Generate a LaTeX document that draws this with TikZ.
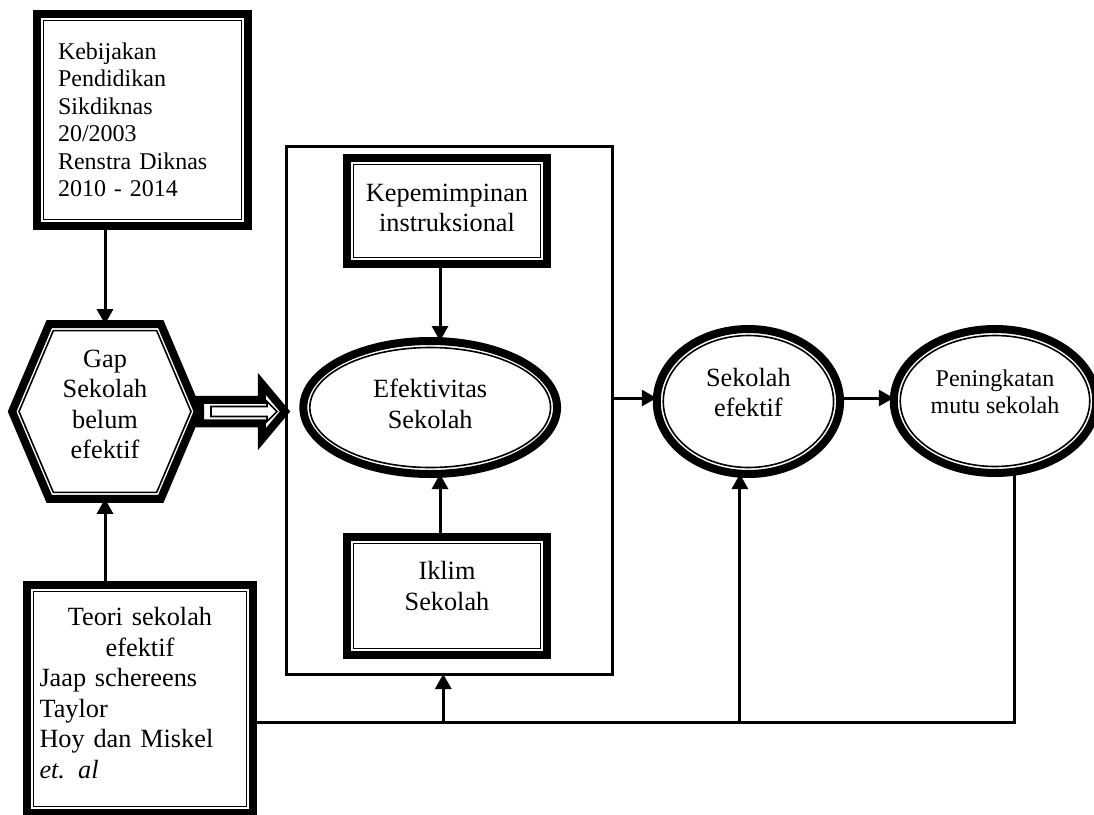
\documentclass[tikz,border=0pt]{standalone}
\usepackage{fontspec}
\setmainfont{Liberation Serif}
\usetikzlibrary{shapes.geometric, shapes.symbols, positioning, arrows.meta, calc}
\tikzset{
  rim/.style={draw, line width=8pt, inner sep=0pt, outer sep=0pt},
  thinrim/.style={draw, line width=1.6pt, inner sep=0pt, outer sep=0pt},
  panel/.style={draw, line width=3pt, inner sep=0pt, outer sep=0pt},
  hexa/.style={signal, signal to=east and west, signal pointer angle=134},
  bigtxt/.style={font=\fontsize{26.3}{30.5}\selectfont, align=center, inner sep=0pt},
  smalltxt/.style={font=\fontsize{24}{27.5}\selectfont, align=center, inner sep=0pt},
  conn/.style={line width=3pt, -{Triangle[width=16pt,length=15pt]}},
  wire/.style={line width=3pt},
  fatarrow/.style={line join=miter}
}
\begin{document}
\begin{tikzpicture}[x=1pt, y=-1pt]
\useasboundingbox (0,0) rectangle (1094,814);

% kotak kebijakan
\node[rim, minimum width=211pt, minimum height=212pt] (kebijakan) at (142.5,120) {};
\node[thinrim, minimum width=198pt, minimum height=199pt] (kebijakan-in) at (kebijakan) {};
\node[smalltxt, text width=169pt, align=left] (kebijakan-t) at (kebijakan) {Kebijakan\\Pendidikan\\Sikdiknas\\20/2003\\Renstra Diknas\\2010 - 2014};

% segi enam gap
\node[rim, hexa, minimum width=185.8pt, minimum height=174.7pt] (gap) at (105,411.5) {};
\node[thinrim, hexa, minimum width=172pt, minimum height=161.7pt] (gap-in) at (gap) {};
\node[bigtxt] (gap-t) at ([yshift=7pt]gap) {Gap\\Sekolah\\belum\\efektif};

% kotak teori
\node[rim, minimum width=226pt, minimum height=228pt] (teori) at (140,699) {};
\node[thinrim, minimum width=213pt, minimum height=215pt] (teori-in) at (teori) {};
\node[bigtxt, text width=201pt, align=left] (teori-t) at ([yshift=6pt]teori) {\makebox[\hsize]{Teori sekolah}\\\makebox[\hsize]{efektif}\\Jaap schereens\\Taylor\\Hoy dan Miskel\\\textit{et. al}};

% bingkai tengah
\node[panel, minimum width=325.5pt, minimum height=527.5pt] (frame) at (449.25,410.25) {};

\node[rim, minimum width=200pt, minimum height=106pt] (kep) at (447,211) {};
\node[thinrim, minimum width=187pt, minimum height=93pt] (kep-in) at (kep) {};
\node[bigtxt] (kep-t) at ([yshift=3pt]kep) {Kepemimpinan\\instruksional};

\node[rim, ellipse, minimum width=253.7pt, minimum height=133pt] (efek) at (430.2,407.5) {};
\node[thinrim, ellipse, minimum width=240.7pt, minimum height=120pt] (efek-in) at (efek) {};
\node[bigtxt] (efek-t) at ([yshift=3.5pt]efek) {Efektivitas\\Sekolah};

\node[rim, minimum width=200pt, minimum height=118pt] (iklim) at (447,596) {};
\node[thinrim, minimum width=187pt, minimum height=105pt] (iklim-in) at (iklim) {};
\node[bigtxt] (iklim-t) at ([yshift=10pt]iklim) {Iklim\\Sekolah};

% hasil
\node[rim, ellipse, minimum width=183.3pt, minimum height=145pt] (sekolah) at (748.4,401.5) {};
\node[thinrim, ellipse, minimum width=170.3pt, minimum height=132pt] (sekolah-in) at (sekolah) {};
\node[bigtxt] (sekolah-t) at ([yshift=9pt]sekolah) {Sekolah\\efektif};

\node[rim, ellipse, minimum width=202.5pt, minimum height=144pt] (mutu) at (995,401) {};
\node[thinrim, ellipse, minimum width=189.5pt, minimum height=131pt] (mutu-in) at (mutu) {};
\node[smalltxt] (mutu-t) at ([yshift=9pt]mutu) {Peningkatan\\mutu sekolah};

% panah
\draw[conn] (gap.north |- kebijakan.south) -- (gap.north);
\draw[conn] (gap.south |- teori.north) -- (gap.south);
\draw[conn] ([xshift=-7pt]kep.south) -- ([xshift=-7pt]kep.south |- efek.north);
\draw[conn] ([xshift=-7pt]iklim.north) -- ([xshift=-7pt]iklim.north |- efek.south);
\draw[conn] ($(frame.east |- sekolah.west)+(0,-3.5)$) -- ([yshift=3.5pt]sekolah.west);
\draw[conn] ([yshift=3.5pt]sekolah.east) -- ($(mutu.west |- sekolah.east)+(0,-3.5)$);

% panah besar
\draw[fatarrow, line width=8pt] ($(gap.center)+(95,-11.75)$) -- ++(61.75,0) -- ++(0,-16) -- ++(23.25,27.75) -- ++(-23.25,27.75) -- ++(0,-16) -- ++(-61.75,0) -- cycle;
\draw[fatarrow, line width=1.6pt] ($(gap.center)+(106,-5)$) -- ++(56,0) -- ++(0,-5) -- ++(10,10) -- ++(-10,10) -- ++(0,-5) -- ++(-56,0) -- cycle;

% garis bawah
\coordinate (bus) at ([yshift=-23pt]teori.east);
\draw[wire] (bus) -| ([xshift=19pt]mutu.south);
\draw[conn] ([xshift=-6pt]frame.south |- bus) -- ([xshift=-6pt]frame.south);
\draw[conn] ([xshift=-8.5pt]sekolah.south |- bus) -- ([xshift=-8.5pt]sekolah.south);
\end{tikzpicture}
\end{document}
